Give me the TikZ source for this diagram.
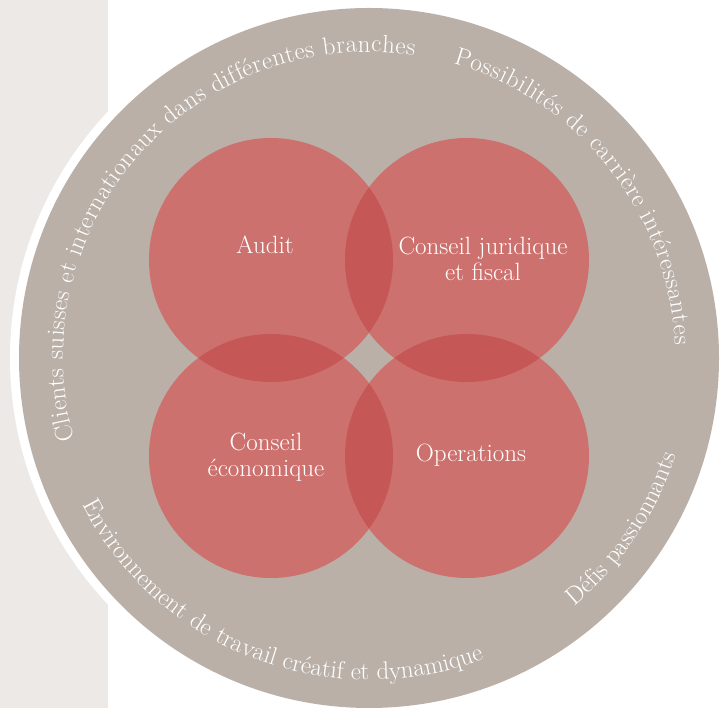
\documentclass[tikz,border=0pt]{standalone}
\usepackage{tikz}
\usetikzlibrary{decorations.text}
\definecolor{ringgray}{HTML}{BAB0A8}
\definecolor{stripgray}{HTML}{ECE9E6}
\definecolor{areared}{HTML}{CD716E}
\definecolor{lensred}{HTML}{C55856}
\tikzset{
  ringtext/.style={decorate,decoration={text along path,text align=center,
    text={|\fontsize{25}{26}\selectfont\color{white}|#1}}},
  ringfit/.style={decorate,decoration={text along path,text align=fit to path,
    text={|\fontsize{25}{26}\selectfont\color{white}|#1}}},
  arealabel/.style={text=white,font=\fontsize{25}{26}\selectfont,align=center},
}
\begin{document}
\begin{tikzpicture}[x=1pt,y=1pt]
  \useasboundingbox (0,0) rectangle (723,708);
  \clip (0,0) rectangle (723,708);
  % 左侧背景条
  \fill[stripgray] (0,0) rectangle (108,708);
  % 外圈
  \coordinate (O) at (369,350);
  \fill[white] (O) circle (359);
  \fill[ringgray] (O) circle (350);
  % 四个圆
  \coordinate (tl) at (271,448);
  \coordinate (tr) at (467,448);
  \coordinate (bl) at (271,252);
  \coordinate (br) at (467,252);
  \foreach \c in {tl,tr,bl,br}
    \fill[areared] (\c) circle (122);
  % 重叠部分
  \begin{scope}
    \clip (tl) circle (122);
    \fill[lensred] (tr) circle (122);
    \fill[lensred] (bl) circle (122);
  \end{scope}
  \begin{scope}
    \clip (br) circle (122);
    \fill[lensred] (tr) circle (122);
    \fill[lensred] (bl) circle (122);
  \end{scope}
  % 圆内文字
  \node[arealabel] (audit) at (265,463) {Audit};
  \node[arealabel] (legal) at (483,449) {Conseil juridique\\et fiscal};
  \node[arealabel] (econ) at (266,251) {Conseil\\économique};
  \node[arealabel] (ops) at (471,253) {Operations};
  % 外圈文字
  \path[ringfit={Clients suisses et internationaux dans différentes branches},shift={(O)}]
    (195.5:306) arc[start angle=195.5,end angle=81.5,radius=306];
  \path[ringfit={Possibilités de carrière intéressantes},shift={(O)}]
    (74:306) arc[start angle=74,end angle=2.5,radius=306];
  \path[ringtext={Défis passionnants},shift={(O)}]
    (-74:322) arc[start angle=-74,end angle=6,radius=322];
  \path[ringtext={Environnement de travail créatif et dynamique},shift={(O)}]
    (179:322) arc[start angle=179,end angle=319,radius=322];
\end{tikzpicture}
\end{document}
